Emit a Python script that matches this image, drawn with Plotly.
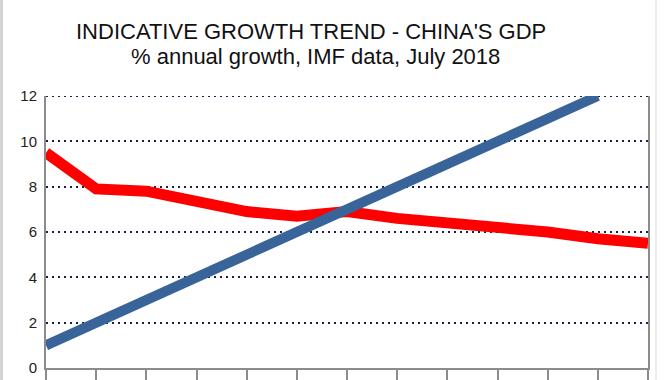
import plotly.graph_objects as go

periods = list(range(13))
gdp_growth = [9.5, 7.9, 7.8, 7.3, 6.9, 6.7, 6.9, 6.6, 6.4, 6.3, 6.0, 5.7, 5.5]
trend_periods = list(range(12))
trend_values = [1, 2, 3, 4, 5, 6, 7, 8, 9, 10, 11, 12]
y_ticks = [0, 2, 4, 6, 8, 10, 12]

title_line1 = "INDICATIVE GROWTH TREND - CHINA'S GDP"
title_line2 = "% annual growth, IMF data, July 2018"

fig = go.Figure()
fig.add_trace(go.Scatter(x=periods, y=gdp_growth, mode="lines",
                         line=dict(color="#ff0000", width=11), showlegend=False))
fig.add_trace(go.Scatter(x=trend_periods, y=trend_values, mode="lines",
                         line=dict(color="#38649a", width=10), showlegend=False))

grid_color = "#1a1f4a"
grid_dash = "2px,4px"

fig.update_layout(
    width=670, height=380,
    margin=dict(l=46, r=22, t=96, b=12, autoexpand=False),
    paper_bgcolor="white", plot_bgcolor="white",
    font=dict(family="Liberation Sans, Arial, sans-serif", color="#111"),
    xaxis=dict(range=[0, 12], tickvals=periods, showticklabels=False,
               ticks="outside", ticklen=14, tickwidth=2, tickcolor="#8c8c8c",
               showgrid=False, zeroline=False, showline=True, automargin=False,
               linecolor="#8c8c8c", linewidth=2),
    yaxis=dict(range=[0, 12], tickvals=y_ticks, ticks="", showline=True,
               linecolor="#8c8c8c", linewidth=2, mirror=True, automargin=False,
               showgrid=True, gridcolor=grid_color, gridwidth=2,
               griddash=grid_dash, zeroline=False, ticklabelstandoff=4,
               ticklabeloverflow="allow",
               tickfont=dict(size=15, color="#222")),
    annotations=[
        dict(text=title_line1, xref="paper", yref="paper",
             x=0.441, y=1.2387, xanchor="center", yanchor="middle",
             showarrow=False, font=dict(size=22, color="#111")),
        dict(text=title_line2, xref="paper", yref="paper",
             x=0.4485, y=1.1436, xanchor="center", yanchor="middle",
             showarrow=False, font=dict(size=22, color="#111")),
    ],
    shapes=[
        dict(type="line", xref="paper", yref="y", x0=0, x1=1,
             y0=y_ticks[-1], y1=y_ticks[-1], layer="below",
             line=dict(color=grid_color, width=2, dash=grid_dash)),
        dict(type="line", xref="paper", yref="paper", x0=1.0133, x1=1.0133,
             y0=-0.1, y1=1.4, line=dict(color="#ececec", width=2)),
        dict(type="line", xref="paper", yref="paper", x0=-0.0739, x1=-0.0739,
             y0=-0.1, y1=1.4, line=dict(color="#d4d4d4", width=3)),
    ],
)
fig.write_html("out.html", config={"displayModeBar": False},
               post_script="document.body.style.margin='0';document.body.style.overflow='hidden';")
